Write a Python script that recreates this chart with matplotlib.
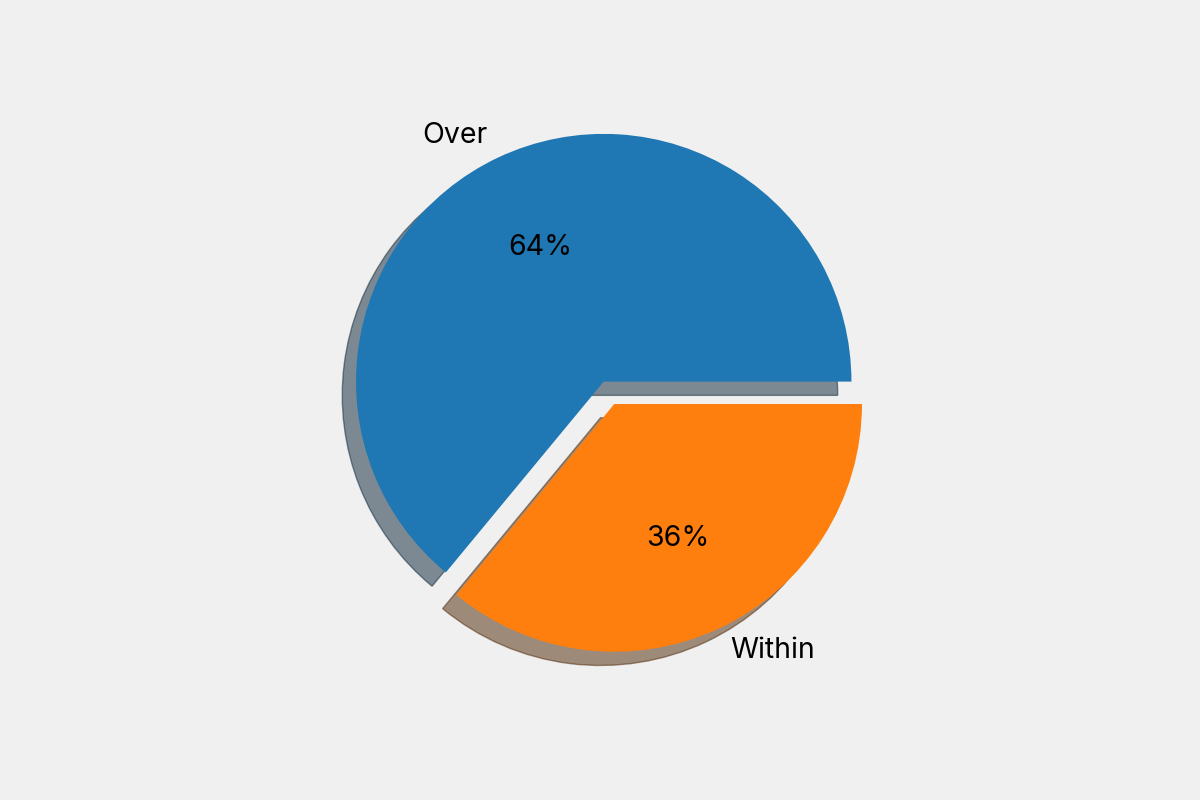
import matplotlib.pyplot as plt

labels = ["Over", "Within"]
sizes = [64, 36]
explode = [0, 0.1]
colors = ["#1f77b4", "#ff7f0e"]

plt.rcParams['font.family'] = ['Inter', 'DejaVu Sans']

fig = plt.figure(figsize=(12, 8), dpi=100, facecolor="#f0f0f0")
ax = fig.add_axes([0.0075, 0.153, 1.0, 0.712])
ax.set_facecolor("#f0f0f0")

ax.pie(sizes, labels=labels, explode=explode, colors=colors,
       autopct="%1.0f%%", shadow={'ox': -0.04, 'oy': -0.04},
       startangle=0, textprops={'fontsize': 20.5})
ax.axis("equal")

plt.savefig("out.png", facecolor=fig.get_facecolor())
